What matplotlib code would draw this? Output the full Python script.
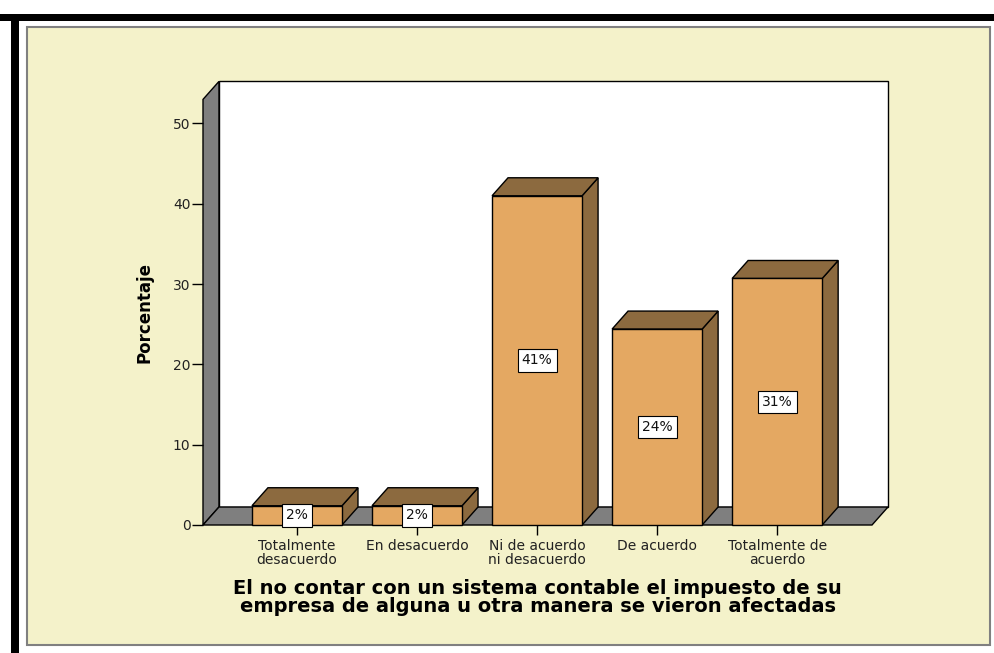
import matplotlib.pyplot as plt
from matplotlib.patches import Polygon, Rectangle

categorias = ["Totalmente\ndesacuerdo", "En desacuerdo", "Ni de acuerdo\nni desacuerdo",
              "De acuerdo", "Totalmente de\nacuerdo"]
porcentajes = [2.4, 2.4, 41.0, 24.4, 30.7]
etiquetas = ["2%", "2%", "41%", "24%", "31%"]
yticks = [0, 10, 20, 30, 40, 50]

frente = "#E4A862"
marron = "#8C6A3F"
gris = "#7F7F7F"
beige = "#F4F2CA"

fig = plt.figure(figsize=(9.94, 6.53), dpi=100)
fig.patch.set_facecolor("white")

# marco exterior
fig.add_artist(Rectangle((27/994, 1-645/653), (990-27)/994, (645-27)/653, transform=fig.transFigure,
                         facecolor=beige, edgecolor="#808080", lw=1.5, zorder=-5))
fig.add_artist(Rectangle((0, 1-21/653), 1, 7/653, transform=fig.transFigure, facecolor="black", lw=0, zorder=-5))
fig.add_artist(Rectangle((11/994, 0), 8/994, 1-14/653, transform=fig.transFigure, facecolor="black", lw=0, zorder=-5))

ax = fig.add_axes([203/994, 1-525/653, (872-203)/994, (525-99.4)/653])
ax.set_facecolor("none")
xl, xr = -0.783, 4.79
ytop = 53
ax.set_xlim(xl, xr)
ax.set_ylim(0, ytop)
dx, dy = 0.133, 2.24
w = 0.375

# paredes
ax.add_patch(Polygon([(xl+dx, dy), (xr+dx, dy), (xr+dx, ytop+dy), (xl+dx, ytop+dy)],
                     closed=True, facecolor="white", edgecolor="black", lw=1, clip_on=False, zorder=1))
ax.add_patch(Polygon([(xl, 0), (xl+dx, dy), (xl+dx, ytop+dy), (xl, ytop)],
                     closed=True, facecolor=gris, edgecolor="black", lw=1, clip_on=False, zorder=1))
ax.add_patch(Polygon([(xl, 0), (xr, 0), (xr+dx, dy), (xl+dx, dy)],
                     closed=True, facecolor=gris, edgecolor="black", lw=1, clip_on=False, zorder=1))

for i, v in enumerate(porcentajes):
    ax.add_patch(Polygon([(i+w, 0), (i+w+dx, dy), (i+w+dx, v+dy), (i+w, v)], closed=True,
                         facecolor=marron, edgecolor="black", lw=1, clip_on=False, zorder=2))
    ax.add_patch(Polygon([(i-w, v), (i+w, v), (i+w+dx, v+dy), (i-w+dx, v+dy)], closed=True,
                         facecolor=marron, edgecolor="black", lw=1, clip_on=False, zorder=2))
    ax.add_patch(Rectangle((i-w, 0), 2*w, v, facecolor=frente, edgecolor="black", lw=1,
                           clip_on=False, zorder=3))
    ax.text(i, v/2, etiquetas[i], ha="center", va="center", fontsize=10, color="#111111",
            zorder=5, clip_on=False,
            bbox=dict(boxstyle="square,pad=0.3", facecolor="white", edgecolor="black", lw=0.8))

for s in ["top", "right", "bottom", "left"]:
    ax.spines[s].set_visible(False)
ax.set_yticks(yticks)
ax.set_xticks(range(len(categorias)))
ax.set_xticklabels(categorias, fontsize=10, linespacing=1.05, color="#222222")
ax.tick_params(axis="y", length=8, width=1, labelsize=10, pad=1, labelcolor="#222222")
ax.tick_params(axis="x", length=7, width=1, pad=3)
ax.set_ylabel("Porcentaje", fontsize=12, fontweight="bold", labelpad=14)
ax.set_xlabel("El no contar con un sistema contable el impuesto de su\n"
              "empresa de alguna u otra manera se vieron afectadas",
              fontsize=14, fontweight="bold", labelpad=8, linespacing=0.97)

fig.savefig("out.png", dpi=100)
